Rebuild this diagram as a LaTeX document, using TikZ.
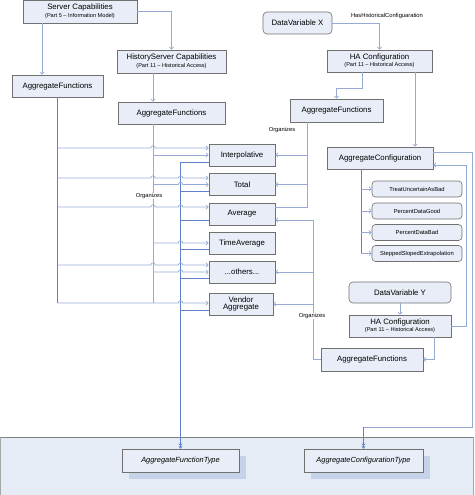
\documentclass[tikz,border=0pt]{standalone}
\usepackage{fontspec}
\setmainfont{Liberation Sans}
\usetikzlibrary{arrows.meta,calc}
\definecolor{boxfill}{HTML}{E8EDF7}
\definecolor{boxdraw}{HTML}{707070}
\definecolor{linec}{HTML}{95ABD4}
\definecolor{busc}{HTML}{5F82C6}
\definecolor{bandfill}{HTML}{E6ECF6}
\definecolor{shadowc}{HTML}{C5D3E9}
\definecolor{tipc}{HTML}{4A6DB3}
\newcommand\hopx[2]{-- ($(#1 |- #2)+(-2.2,0)$) arc[start angle=180,end angle=360,radius=2.2]}
\tikzset{
 box/.style={draw=boxdraw, fill=boxfill, line width=0.6pt, inner sep=0pt, align=center, font=\fontsize{7.8}{9}\selectfont},
 rbox/.style={box, rounded corners=4pt},
 cbox/.style={box, rounded corners=3.5pt, minimum width=90pt, minimum height=16pt, font=\fontsize{5.8}{7}\selectfont},
 fbox/.style={box, minimum width=66pt, minimum height=22pt},
 tbox/.style={box, font=\fontsize{7.4}{9}\selectfont\itshape, minimum height=23pt},
 shadowbox/.style={fill=shadowc},
 conn/.style={draw=linec, line width=0.7pt},
 bus/.style={draw=busc, line width=0.7pt},
 arr/.style={conn, -{Straight Barb[length=2.2pt,width=4.4pt]}},
 dtip/.style={-{Stealth[length=2.6pt,width=4pt,fill=tipc] Stealth[length=2.6pt,width=4pt,fill=tipc]}, draw=busc, line width=0.7pt},
 lbl/.style={font=\fontsize{5.8}{7}\selectfont, inner sep=0.6pt, fill=white}
}
\newcommand\smalltxt[1]{{\fontsize{5.6}{6.5}\selectfont #1}}
\begin{document}
\begin{tikzpicture}[x=1pt,y=-1pt]
\useasboundingbox (0,0) rectangle (474,495);
% bottom band
\fill[bandfill] (0,437) rectangle (474,495);
\draw[gray, line width=0.7pt] (0,437) -- (474,437);
\draw[gray!70, line width=1pt] (0.5,437) -- (0.5,495);
\draw[gray!70, line width=0.6pt] (473.7,437) -- (473.7,495);
% shadows of the type boxes
\fill[shadowbox] (129,456) rectangle (246,479);
\fill[shadowbox] (311,456) rectangle (430,479);

% nodes
\node[box, minimum width=114pt, minimum height=23pt] (sc) at (80,11.5) {Server Capabilities\\[-1.5pt]\smalltxt{(Part 5 – Information Model)}};
\node[box, minimum width=109pt, minimum height=23pt] (hsc) at (171.5,61.5) {HistoryServer Capabilities\\[-1.5pt]\smalltxt{(Part 11 – Historical Access)}};
\node[box, minimum width=91pt, minimum height=22pt] (afL) at (57.5,86) {AggregateFunctions};
\node[box, minimum width=107pt, minimum height=22pt] (afM) at (171.5,113) {AggregateFunctions};
\node[rbox, minimum width=69pt, minimum height=22pt] (dvx) at (297.5,23) {DataVariable X};
\node[box, minimum width=105pt, minimum height=22pt] (hax) at (379.5,61) {HA Configuration\\[-1.5pt]\smalltxt{(Part 11 – Historical Access)}};
\node[box, minimum width=93pt, minimum height=23pt] (afR) at (336.5,110.5) {AggregateFunctions};
\node[box, minimum width=106pt, minimum height=22pt] (acfg) at (380,158) {AggregateConfiguration};
\node[cbox] (tuab) at (417,189) {TreatUncertainAsBad};
\node[cbox] (pdg) at (417,211) {PercentDataGood};
\node[cbox] (pdb) at (417,232.5) {PercentDataBad};
\node[cbox] (sse) at (417,253.5) {SteppedSlopedExtrapolation};
\node[fbox] (interp) at (242,155) {Interpolative};
\node[fbox] (total) at (242,184.5) {Total};
\node[fbox] (avg) at (242,214) {Average};
\node[fbox] (tavg) at (242,243) {TimeAverage};
\node[fbox] (others) at (242,272) {...others...};
\node[fbox, minimum width=64pt] (vendor) at (241,304) {Vendor\\[-1.5pt]Aggregate};
\node[rbox, minimum width=102pt, minimum height=21pt] (dvy) at (400,292.5) {DataVariable Y};
\node[box, minimum width=102pt, minimum height=22pt] (hay) at (400,326) {HA Configuration\\[-1.5pt]\smalltxt{(Part 11 – Historical Access)}};
\node[box, minimum width=102pt, minimum height=23pt] (afB) at (372,359.5) {AggregateFunctions};
\node[tbox, minimum width=117pt] (aft) at (180.5,460.5) {AggregateFunctionType};
\node[tbox, minimum width=119pt] (act) at (363.5,460.5) {AggregateConfigurationType};

% helper coordinates
\coordinate (xA) at (42,0);
\coordinate (xL) at (57.5,0);
\coordinate (xM) at (153,0);
\coordinate (xT) at (180.5,0);
\coordinate (xR) at (307,0);
\coordinate (xB) at (313,0);
\coordinate (xC) at (361,0);
\coordinate (xH) at (362,0);
\coordinate (xK) at (415,0);
\coordinate (xY) at (434,0);
\coordinate (xQ) at (466,0);
\coordinate (xZ) at (472,0);
\coordinate (yH) at (0,88);
\coordinate (yC1) at (0,152);
\coordinate (yC2) at (0,165);
\coordinate (yBt) at (0,427);
\coordinate (yL1) at (0,148);
\coordinate (yL2) at (0,178);
\coordinate (yL3) at (0,207);
\coordinate (yL4) at (0,265);
\coordinate (yL5) at (0,303);
\coordinate (yT1) at (0,162);
\coordinate (yT2) at (0,191);
\coordinate (yT3) at (0,220);
\coordinate (yT4) at (0,249);
\coordinate (yT5) at (0,278);
\coordinate (yT6) at (0,310);

% top connectors
\draw[arr] (xA |- sc.south) -- (xA |- afL.north);
\draw[arr] (sc.east) -| (hsc.north);
\draw[arr] (xM |- hsc.south) -- (xM |- afM.north);
\draw[arr] (dvx.east) -| (hax.north);
\node[font=\fontsize{5.8}{7}\selectfont, inner sep=0pt] (lhh) at (387,16) {HasHistoricalConfiguaration};
\draw[arr] (xH |- hax.south) -- (xH |- yH) -| (afR.north);
\draw[arr] (xK |- hax.south) -- (xK |- acfg.north);

% type bus
\draw[dtip] (xT |- yT1) -- (aft.north);
\foreach \n/\y in {interp/yT1,total/yT2,avg/yT3,tavg/yT4,others/yT5,vendor/yT6}
  \draw[bus] (\n.west |- \y) -- (xT |- \y);

% left bus
\draw[bus] (afL.south) -- (xL |- yL5);
\draw[arr] (xL |- yL1) \hopx{xM}{yL1} -- (interp.west |- yL1);
\draw[arr] (xL |- yL2) \hopx{xM}{yL2} \hopx{xT}{yL2} -- (total.west |- yL2);
\draw[arr] (xL |- yL3) \hopx{xM}{yL3} \hopx{xT}{yL3} -- (avg.west |- yL3);
\draw[arr] (xL |- yL4) \hopx{xM}{yL4} \hopx{xT}{yL4} -- (others.west |- yL4);
\draw[arr] (xL |- yL5) \hopx{xT}{yL5} -- (vendor.west |- yL5);

% middle bus
\draw[conn] (xM |- afM.south) -- (xM |- yL5);
\draw[arr] (xM |- interp.west) -- (interp.west);
\draw[arr] (xM |- total.west) \hopx{xT}{total.west} -- (total.west);
\draw[arr] (xM |- tavg.west) \hopx{xT}{tavg.west} -- (tavg.west);
\draw[arr] (xM |- others.west) \hopx{xT}{others.west} -- (others.west);
\node[lbl] (lorg1) at (149,196) {Organizes};

% right-top AggregateFunctions
\draw[conn] (xR |- afR.south) -- (xR |- yL3) -- (avg.east |- yL3);
\draw[arr] (xR |- interp.east) -- (interp.east);
\draw[arr] (xR |- total.east) -- (total.east);
\node[lbl] (lorg2) at (282,130) {Organizes};

% AggregateConfiguration children
\draw[bus] (xC |- acfg.south) -- (xC |- sse.west);
\foreach \n in {tuab,pdg,pdb,sse}
  \draw[arr] (xC |- \n.west) -- (\n.west);

% lower right
\draw[arr] (dvy.south) -- (hay.north);
\draw[arr] (xY |- hay.south) -- (xY |- afB.east) -- (afB.east);
\draw[arr] (hay.east) -- (xQ |- hay.east) -- (xQ |- yC2) -- (acfg.east |- yC2);
\draw[conn] (acfg.east |- yC1) -- (xZ |- yC1) -- (xZ |- yBt) -- (act.north |- yBt);
\draw[dtip] (act.north |- yBt) -- (act.north);

% bottom AggregateFunctions bus
\draw[conn] (afB.west) -- (xB |- afB.west) -- (xB |- yT3);
\draw[arr] (xB |- yT3) -- (avg.east |- yT3);
\draw[arr] (xB |- others.east) -- (others.east);
\draw[arr] (xB |- vendor.east) -- (vendor.east);
\node[lbl] (lorg3) at (312,316) {Organizes};
\end{tikzpicture}
\end{document}
